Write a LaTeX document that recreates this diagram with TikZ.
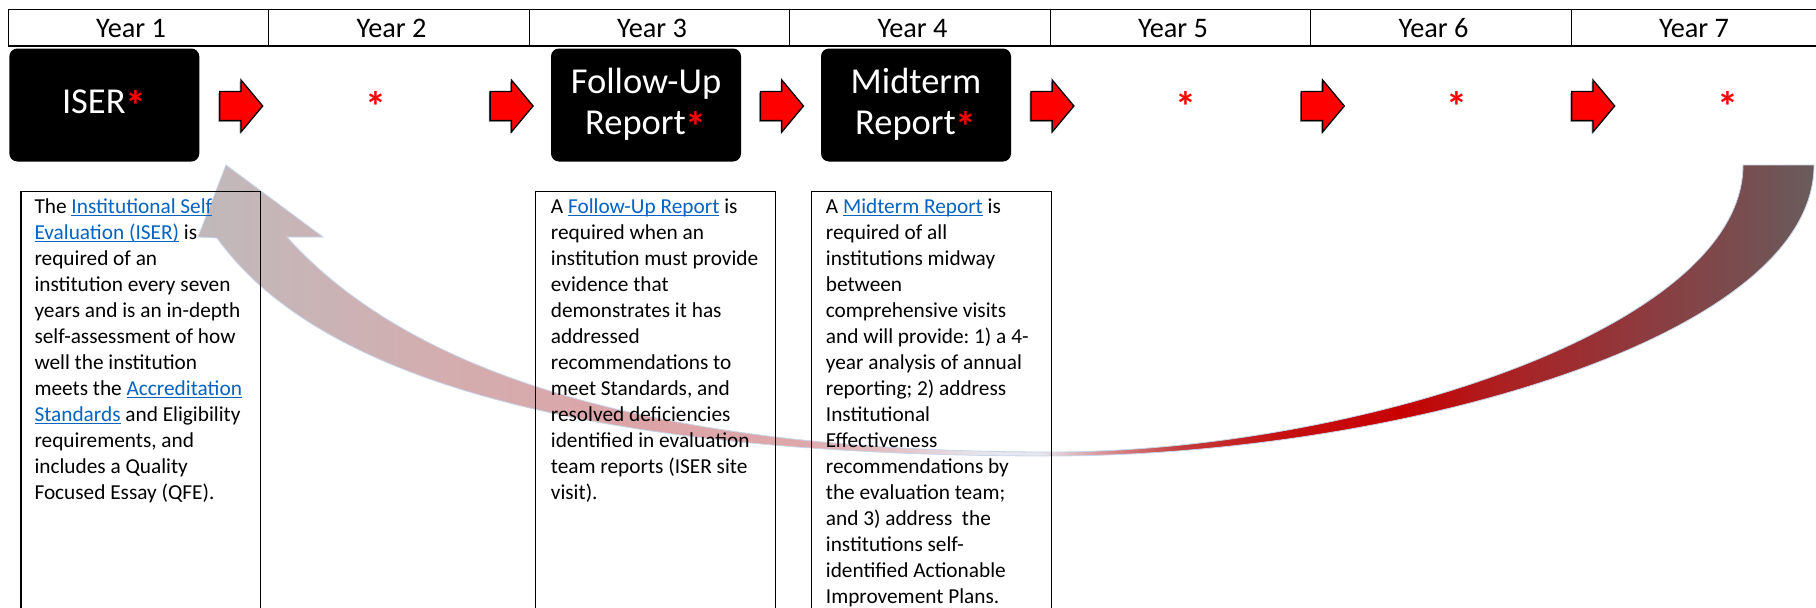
\documentclass[tikz,border=0pt]{standalone}
\usepackage{fontspec}
\setmainfont{Carlito}
\definecolor{linkblue}{RGB}{5,99,193}
\definecolor{arrred}{RGB}{255,0,0}
\definecolor{astred}{RGB}{255,0,0}
\definecolor{edgeblue}{RGB}{200,214,234}
\definecolor{cs0}{RGB}{192,184,186}
\definecolor{cs1}{RGB}{197,182,184}
\definecolor{cs2}{RGB}{212,173,175}
\definecolor{cs3}{RGB}{220,164,167}
\definecolor{cs4}{RGB}{222,168,171}
\definecolor{cs5}{RGB}{227,196,201}
\definecolor{cs6}{RGB}{232,228,236}
\definecolor{cs7}{RGB}{230,230,238}
\definecolor{cs8}{RGB}{218,150,155}
\definecolor{cs9}{RGB}{196,60,60}
\definecolor{cs10}{RGB}{198,16,16}
\definecolor{cs11}{RGB}{200,0,0}
\definecolor{cs12}{RGB}{172,32,34}
\definecolor{cs13}{RGB}{140,60,64}
\definecolor{cs14}{RGB}{104,92,92}
\pgfdeclarehorizontalshading{curveshade}{100bp}{color(0bp)=(cs0); color(25bp)=(cs0); color(26.95bp)=(cs1); color(32.81bp)=(cs2); color(38.99bp)=(cs3); color(43.62bp)=(cs4); color(46.71bp)=(cs5); color(49.18bp)=(cs6); color(51.03bp)=(cs7); color(52.89bp)=(cs8); color(55.36bp)=(cs9); color(58.45bp)=(cs10); color(62.15bp)=(cs11); color(65.24bp)=(cs12); color(69.87bp)=(cs13); color(75bp)=(cs14); color(100bp)=(cs14)}
\newcommand{\mylink}[1]{{\color{linkblue}\setbox0=\hbox{#1}\rlap{\rule[-2.6pt]{\wd0}{1.1pt}}\box0}}
\newcommand{\bodyfnt}{\fontsize{21.3pt}{26pt}\selectfont\frenchspacing}
\newcommand{\headfnt}{\fontsize{28.3pt}{34pt}\selectfont}
\newcommand{\boxfnt}{\fontsize{36.5pt}{41pt}\selectfont}
\newcommand{\bigast}{\textcolor{astred}{\raisebox{-6.5pt}{\fontsize{42pt}{41pt}\selectfont\bfseries *}}}
\tikzset{
  blockarr/.pic={
    \begin{scope}[shift={(-1.3,1.3)}]
      \path[arrowshadow] (0,-14.5) -- (21.3,-14.5) -- (21.3,-26) -- (43,0) -- (21.3,26) -- (21.3,14.5) -- (0,14.5) -- cycle;
    \end{scope}
    \path[arrowbody] (0,-14.5) -- (21.3,-14.5) -- (21.3,-26) -- (43,0) -- (21.3,26) -- (21.3,14.5) -- (0,14.5) -- cycle;
  }
}
\begin{document}
\begin{tikzpicture}[x=1pt, y=-1pt,
  hcell/.style={draw, line width=1.2pt, minimum width=260.5pt, minimum height=36.7pt, inner sep=0pt},
  htext/.style={font=\headfnt, inner sep=0pt, anchor=base},
  blackbox/.style={fill=black, rounded corners=8pt, minimum width=190pt, minimum height=113pt, inner sep=0pt, text=white, font=\boxfnt, align=center},
  redast/.style={font=\boxfnt, inner sep=0pt, anchor=base},
  txtframe/.style={draw=none, minimum height=420pt, inner sep=0pt, anchor=north west},
  frameline/.style={line width=1.2pt},
  bodytxt/.style={font=\bodyfnt, align=left, inner sep=0pt, anchor=north west},
  arrowbody/.style={fill=arrred, draw=black, line width=1.3pt, line join=miter},
  arrowshadow/.style={fill=black!40},
  band/.style={draw=edgeblue, line width=0.8pt}
]
\useasboundingbox (0,0) rectangle (1816,608);
\fill[white] (0,0) rectangle (1816,608);

% header row
\foreach \i in {1,...,7} {
  \node[hcell] (c\i) at ({8.3+260.5*(\i-0.5)},27.65) {};
  \node[htext] (y\i) at ({8.3+260.5*(\i-0.5)-7.5},37.7) {Year \i};
}

% big curved return arrow
\path[band, path picture={\shade[shading=curveshade] (197,0) rectangle (1816,610);}]
  (1814,165) .. controls (1814,340) and (1391,456) .. (1051,456)
  .. controls (599,456) and (321,383.3) .. (217,238)
  -- (198,237) -- (226,165) -- (323,237) -- (287,237)
  .. controls (415.7,380.3) and (670.3,452) .. (1051,452)
  .. controls (1351,452) and (1743,330) .. (1743,165) -- cycle;

% description frames
\node[txtframe, minimum width=239.3pt] (f1) at (21,191.7) {};
\node[txtframe, minimum width=240pt] (f2) at (535.3,191.7) {};
\node[txtframe, minimum width=239.5pt] (f3) at (811.5,191.7) {};
\foreach \f in {f1,f2,f3}
  \draw[frameline] (\f.south west) -- (\f.north west) -- (\f.north east) -- (\f.south east);

\node[bodytxt] (t1) at (34.3,191.7) {\rule{0pt}{21.3pt}The \mylink{Institutional Self}\\
\mylink{Evaluation (ISER)} is\\
required of an\\
institution every seven\\
years and is an in-depth\\
self-assessment of how\\
well the institution\\
meets the \mylink{Accreditation}\\
\mylink{Standards} and Eligibility\\
requirements, and\\
includes a Quality\\
Focused Essay (QFE).};

\node[bodytxt] (t2) at (550.7,191.7) {\rule{0pt}{21.3pt}A \mylink{Follow-Up Report} is\\
required when an\\
institution must provide\\
evidence that\\
demonstrates it has\\
addressed\\
recommendations to\\
meet Standards, and\\
resolved deficiencies\\
identified in evaluation\\
team reports (ISER site\\
visit).};

\node[bodytxt] (t3) at (825.7,191.7) {\rule{0pt}{21.3pt}A \mylink{Midterm Report} is\\
required of all\\
institutions midway\\
between\\
comprehensive visits\\
and will provide: 1) a 4-\\
year analysis of annual\\
reporting; 2) address\\
Institutional\\
Effectiveness\\
recommendations by\\
the evaluation team;\\
and 3) address\ \ the\\
institutions self-\\
identified Actionable\\
Improvement Plans.};

% report boxes
\node[blackbox] (iser) at (104.3,105) {ISER\bigast};
\node[blackbox] (fu) at (646,105) {Follow-Up\\Report\bigast};
\node[blackbox] (mt) at (916,105) {Midterm\\Report\bigast};

% empty years
\node[redast] (s2) at (376,114.5) {\bigast};
\node[redast] (s5) at (1186,114.5) {\bigast};
\node[redast] (s6) at (1457,114.5) {\bigast};
\node[redast] (s7) at (1728,114.5) {\bigast};

% step arrows
\foreach \ax [count=\i] in {219.7,490.1,760.5,1030.9,1301.3,1571.7}
  \pic (arr\i) at (\ax,106) {blockarr};
\end{tikzpicture}
\end{document}
